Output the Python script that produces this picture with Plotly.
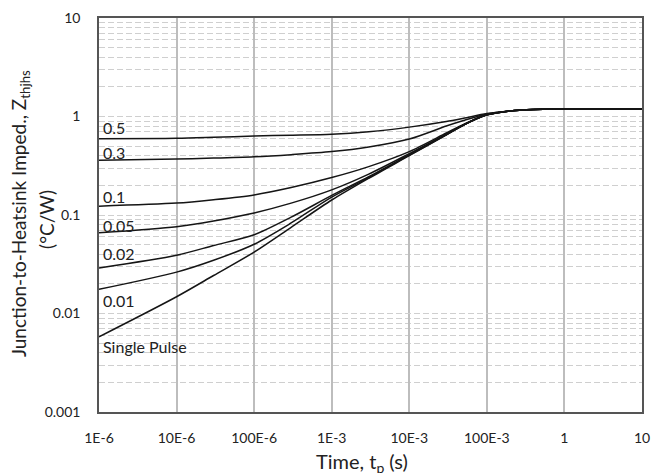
import math
import plotly.graph_objects as go

# Pulse duration (s)
time_s = [1e-6, 1e-5, 3e-5, 1e-4, 3e-4, 1e-3, 3e-3, 1e-2, 3e-2, 5e-2, 1e-1, 2e-1, 4e-1, 1, 10]

# Thermal impedance (°C/W) by duty cycle
z_d050 = [0.595, 0.600, 0.615, 0.634, 0.645, 0.66, 0.70, 0.78, 0.89, 0.96, 1.07, 1.14, 1.18, 1.19, 1.19]
z_d030 = [0.359, 0.370, 0.378, 0.390, 0.41, 0.44, 0.49, 0.59, 0.80, 0.91, 1.06, 1.14, 1.18, 1.19, 1.19]
z_d010 = [0.123, 0.132, 0.143, 0.160, 0.19, 0.24, 0.31, 0.44, 0.68, 0.83, 1.04, 1.14, 1.18, 1.19, 1.19]
z_d005 = [0.066, 0.076, 0.087, 0.105, 0.132, 0.18, 0.26, 0.42, 0.66, 0.82, 1.04, 1.14, 1.18, 1.19, 1.19]
z_d002 = [0.029, 0.039, 0.049, 0.063, 0.095, 0.158, 0.245, 0.41, 0.655, 0.82, 1.04, 1.14, 1.18, 1.19, 1.19]
z_d001 = [0.0176, 0.0263, 0.0347, 0.0505, 0.083, 0.152, 0.24, 0.405, 0.65, 0.82, 1.04, 1.14, 1.18, 1.19, 1.19]
z_single = [0.0058, 0.0148, 0.0243, 0.042, 0.075, 0.142, 0.236, 0.40, 0.65, 0.82, 1.04, 1.14, 1.18, 1.19, 1.19]

series = [z_d050, z_d030, z_d010, z_d005, z_d002, z_d001, z_single]
labels = ["0.5", "0.3", "0.1", "0.05", "0.02", "0.01", "Single Pulse"]
label_y = [0.78, 0.432, 0.153, 0.079, 0.041, 0.0137, 0.0046]

x_tickvals = [1e-6, 1e-5, 1e-4, 1e-3, 1e-2, 1e-1, 1, 10]
x_ticktext = ["1E-6", "10E-6", "100E-6", "1E-3", "10E-3", "100E-3", "1", "10"]
y_tickvals = [0.001, 0.01, 0.1, 1, 10]
y_ticktext = ["0.001", "0.01", "0.1", "1", "10"]

y_title_1 = "Junction-to-Heatsink Imped., Z<sub>thjhs</sub>"
y_title_2 = "(°C/W)"
x_title = "Time, t<sub>p</sub> (s)"

FONT = "Lato, Open Sans, sans-serif"

fig = go.Figure()
for ys in series:
    fig.add_trace(go.Scatter(x=time_s, y=ys, mode="lines",
                             line=dict(color="#151515", width=1.5, shape="spline", smoothing=0.8),
                             showlegend=False, hoverinfo="skip"))

for lab, ly in zip(labels, label_y):
    fig.add_annotation(x=0.003, xref="paper", y=math.log10(ly), yref="y", text=lab, showarrow=False,
                       xanchor="left", yanchor="middle", font=dict(size=16, color="#222", family=FONT))

# axis titles placed as annotations
fig.add_annotation(x=-0.1455, xref="paper", y=0.505, yref="paper", text=y_title_1, textangle=-90,
                   showarrow=False, xanchor="center", yanchor="middle",
                   font=dict(size=19, color="#222", family=FONT))
fig.add_annotation(x=-0.0958, xref="paper", y=0.49, yref="paper", text=y_title_2, textangle=-90,
                   showarrow=False, xanchor="center", yanchor="middle",
                   font=dict(size=19, color="#222", family=FONT))
fig.add_annotation(x=0.484, xref="paper", y=-0.128, yref="paper", text=x_title,
                   showarrow=False, xanchor="center", yanchor="middle",
                   font=dict(size=20, color="#222", family=FONT))

fig.update_layout(
    width=652, height=473,
    margin=dict(l=99, r=10, t=18, b=61),
    paper_bgcolor="white", plot_bgcolor="white",
    font=dict(family=FONT, color="#222"),
)
fig.update_xaxes(type="log", range=[-6, 1], tickvals=x_tickvals, ticktext=x_ticktext,
                 showgrid=True, gridcolor="#bdbdbd", gridwidth=1.5,
                 showline=True, linecolor="#555", linewidth=1.5, mirror=True,
                 ticks="", tickfont=dict(size=14, color="#222"), ticklabelstandoff=12,
                 zeroline=False, automargin=False)
fig.update_yaxes(type="log", range=[-3, 1], tickvals=y_tickvals, ticktext=y_ticktext,
                 showgrid=True, gridcolor="#cfcfcf", gridwidth=1.2, griddash="6px,3px",
                 minor=dict(showgrid=True, gridcolor="#cfcfcf", gridwidth=1.2, griddash="6px,3px", dtick="D1"),
                 showline=True, linecolor="#555", linewidth=1.5, mirror=True,
                 ticks="", tickfont=dict(size=14, color="#222"), ticklabelstandoff=14,
                 zeroline=False, automargin=False)

fig.write_html("out.html", config={"displayModeBar": False},
               post_script="document.body.style.margin='0';document.body.style.overflow='hidden';")
